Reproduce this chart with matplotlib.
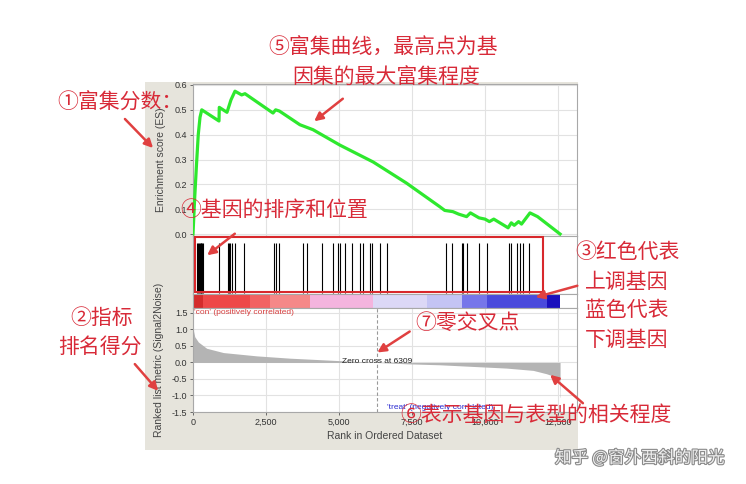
import numpy as np
import matplotlib
matplotlib.use("Agg")
import matplotlib.pyplot as plt
from matplotlib.patches import Rectangle
import matplotlib.patheffects as pe

# ---- data ----
n_genes = 12570
zero_cross = 6309
x_max = 13150

es_rank = [0, 60, 120, 180, 240, 300, 890, 900, 1164, 1300, 1438, 1666, 1780,
           2740, 2830, 2960, 3660, 4110, 5030, 6170, 7310, 8450, 8620, 8900,
           9100, 9370, 9500, 9796, 10000, 10150, 10300, 10790, 10900, 11000,
           11150, 11250, 11540, 11800, 12570]
es_value = [0.0, 0.15, 0.28, 0.40, 0.47, 0.50, 0.455, 0.51, 0.49, 0.54, 0.575,
            0.56, 0.565, 0.487, 0.50, 0.495, 0.44, 0.42, 0.358, 0.29, 0.205,
            0.11, 0.095, 0.09, 0.08, 0.07, 0.085, 0.065, 0.06, 0.05, 0.06,
            0.025, 0.045, 0.035, 0.05, 0.04, 0.085, 0.07, 0.0]

hits = [140, 170, 200, 230, 260, 290, 320, 350, 902, 1187, 1233, 1267, 1336,
        1438, 1758, 2786, 2832, 2957, 3780, 3894, 4430, 4807, 4966, 5035,
        5206, 5434, 5720, 5834, 6062, 6142, 6405, 6633, 8665, 8871, 9202,
        9259, 9373, 9796, 10058, 10834, 10880, 11085, 11200, 11314, 11519]

metric_rank = [0, 20, 60, 183, 468, 1040, 2180, 3320, 4460, 5600, 6309, 7300,
               8450, 9590, 10730, 11650, 12100, 12500, 12555, 12560, 12570]
metric_value = [1.12, 0.95, 0.78, 0.62, 0.43, 0.30, 0.20, 0.13, 0.08, 0.03,
                0.0, -0.04, -0.07, -0.12, -0.17, -0.24, -0.34, -0.46, -0.47,
                -1.05, -1.05]

bar_edges = [0, 353, 1952, 2637, 4007, 6177, 8004, 9202, 10058, 12113, 12570]
bar_colors = ['#d42c2c', '#ee4848', '#f26262', '#f58888', '#f4b4de',
              '#dcd8f6', '#c4c4f4', '#7676ea', '#4a4adc', '#1a0fbd']

rank_ticks = [0, 2500, 5000, 7500, 10000, 12500]
rank_labels = ['0', '2,500', '5,000', '7,500', '10,000', '12,500']
es_ticks = [0.0, 0.1, 0.2, 0.3, 0.4, 0.5, 0.6]
metric_ticks = [-1.5, -1.0, -0.5, 0.0, 0.5, 1.0, 1.5]

W, H = 746, 484
red = '#d82a38'
cjk = ['Noto Sans CJK SC', 'DejaVu Sans']
plt.rcParams['font.family'] = ['Liberation Sans', 'DejaVu Sans']


def fx(px):
    return px / W


def fy(py):
    return 1 - py / H


def axes_box(x0, y0, x1, y1):
    return [fx(x0), fy(y1), (x1 - x0) / W, (y1 - y0) / H]


fig = plt.figure(figsize=(W / 100, H / 100), dpi=100)
fig.patch.set_facecolor('white')

# grey panel behind the GSEA plot
fig.add_artist(Rectangle((fx(145), fy(450)), (578 - 145) / W, (450 - 82) / H,
                         transform=fig.transFigure, facecolor='#e6e4dc',
                         edgecolor='none', zorder=0))


def style(ax):
    for s in ax.spines.values():
        s.set_color('#a8a8a8')
        s.set_linewidth(0.8)
    ax.tick_params(labelsize=6.5, colors='#555555', length=2, width=0.6,
                   labelcolor='#333333', pad=2)
    ax.set_facecolor('white')


# enrichment score
ax_es = fig.add_axes(axes_box(193, 84, 577, 236))
style(ax_es)
ax_es.plot(es_rank, es_value, color='#2ee82e', lw=2.3, zorder=3)
ax_es.set_xlim(0, x_max)
ax_es.set_ylim(-0.008, 0.604)
ax_es.set_yticks(es_ticks)
ax_es.set_yticklabels(['%.1f' % v for v in es_ticks])
ax_es.set_xticks(rank_ticks)
ax_es.set_xticklabels([])
ax_es.tick_params(axis='x', length=0)
ax_es.grid(color='#e2e2e2', lw=0.8)
ax_es.set_axisbelow(True)
ax_es.set_ylabel('Enrichment score (ES)', fontsize=7.5, color='#444444',
                 labelpad=6)

# hits
ax_hit = fig.add_axes(axes_box(193, 236, 577, 294))
style(ax_hit)
ax_hit.vlines(hits, 0.02, 0.88, color='black', lw=0.8)
ax_hit.set_xlim(0, x_max)
ax_hit.set_ylim(0, 1)
ax_hit.set_xticks([])
ax_hit.set_yticks([])

# colour bar
ax_bar = fig.add_axes(axes_box(193, 294, 577, 308))
style(ax_bar)
for i in range(len(bar_colors)):
    ax_bar.axvspan(bar_edges[i], bar_edges[i + 1], color=bar_colors[i], lw=0)
ax_bar.set_xlim(0, x_max)
ax_bar.set_xticks([])
ax_bar.set_yticks([])

# ranked list metric
ax_m = fig.add_axes(axes_box(193, 308, 577, 412))
style(ax_m)
ax_m.fill_between(metric_rank, metric_value, 0, color='#b4b4b4', lw=0, zorder=2)
ax_m.axvline(zero_cross, color='#999999', lw=0.8, ls=(0, (3, 2)), zorder=3)
ax_m.set_xlim(0, x_max)
ax_m.set_ylim(-1.5, 1.65)
ax_m.set_yticks(metric_ticks)
ax_m.set_yticklabels(['%.1f' % v for v in metric_ticks])
ax_m.set_xticks(rank_ticks)
ax_m.set_xticklabels(rank_labels)
ax_m.grid(color='#e2e2e2', lw=0.8)
ax_m.set_axisbelow(True)
ax_m.set_xlabel('Rank in Ordered Dataset', fontsize=7.5, color='#444444',
                labelpad=3)
ax_m.set_ylabel('Ranked list metric (Signal2Noise)', fontsize=7.5,
                color='#444444', labelpad=6)
ax_m.text(40, 1.62, "'con' (positively correlated)", fontsize=6,
          color='#d84040', va='top', ha='left')
ax_m.text(zero_cross, 0.02, 'Zero cross at %d' % zero_cross, fontsize=6,
          color='#222222', ha='center', va='center', zorder=4)
ax_m.text(6650, -1.47, "'treat' (negatively correlated)", fontsize=6,
          color='#2a2ad0', ha='left', va='bottom')

# red box around the hits
fig.add_artist(Rectangle((fx(195), fy(292)), (543 - 195) / W, (292 - 237) / H,
                         transform=fig.transFigure, fill=False,
                         edgecolor='#d8282c', lw=1.5, zorder=10))

# annotations
notes = [
    ('①富集分数：', 57, 103),
    ('②指标', 70, 318),
    ('排名得分', 58, 347),
    ('③红色代表', 575, 252),
    ('上调基因', 585, 282),
    ('蓝色代表', 585, 310),
    ('下调基因', 585, 340),
    ('④基因的排序和位置', 180, 210),
    ('⑤富集曲线，最高点为基', 268, 48),
    ('因集的最大富集程度', 292, 78),
    ('⑥表示基因与表型的相关程度', 400, 415),
    ('⑦零交叉点', 415, 323),
]
for txt, x, y in notes:
    fig.text(fx(x), fy(y), txt, family=cjk, fontsize=15, color=red,
             ha='left', va='center', zorder=11)

arrows = [
    ((123, 117), (155, 150)),
    ((133, 362), (160, 393)),
    ((580, 285), (533, 298)),
    ((237, 232), (205, 257)),
    ((345, 97), (312, 123)),
    ((585, 405), (548, 373)),
    ((412, 330), (375, 354)),
]
for (x0, y0), (x1, y1) in arrows:
    fig.add_artist(matplotlib.patches.FancyArrowPatch(
        (fx(x0), fy(y0)), (fx(x1), fy(y1)), transform=fig.transFigure,
        arrowstyle='-|>,head_length=5,head_width=2.5', color='#e04040',
        lw=1.8, zorder=11))

# watermark
fig.text(fx(555), fy(458), '知乎 @窗外西斜的阳光', family=cjk, fontsize=12,
         color='#f0f0f0', ha='left', va='center', zorder=12,
         path_effects=[pe.withStroke(linewidth=1.6, foreground='#8a8a8a')])

fig.savefig('out.png', dpi=100)
